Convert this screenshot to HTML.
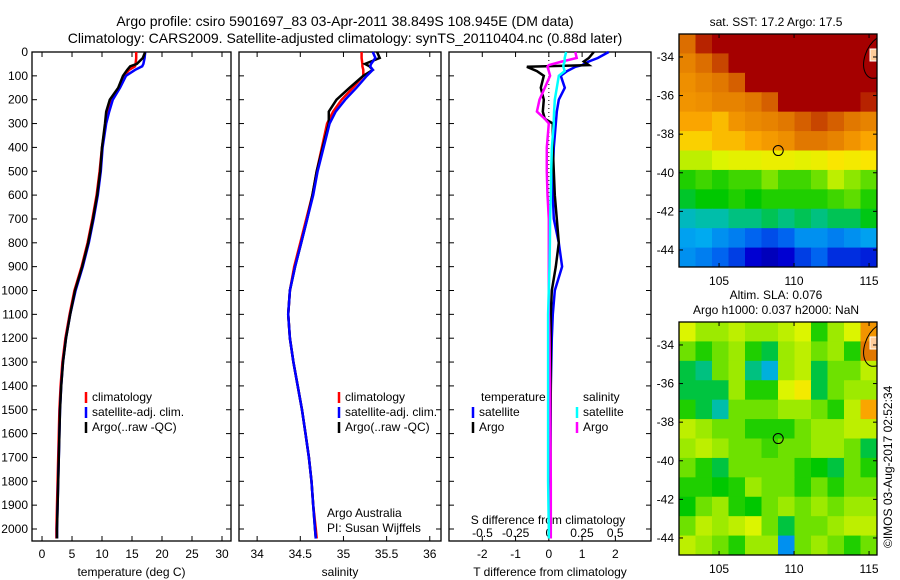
<!DOCTYPE html>
<html><head><meta charset="utf-8"><style>
body{margin:0;background:#fff}
svg{display:block;font-family:"Liberation Sans",sans-serif}
text{fill:#000}
</style></head><body>
<svg id="c" width="900" height="580" viewBox="0 0 900 580">
<text x="345" y="26" font-size="14" text-anchor="middle">Argo profile: csiro 5901697_83 03-Apr-2011 38.849S 108.945E (DM data)</text>
<text x="345" y="43" font-size="14" text-anchor="middle">Climatology: CARS2009. Satellite-adjusted climatology: synTS_20110404.nc (0.88d later)</text>
<text x="776" y="26" font-size="12" text-anchor="middle">sat. SST: 17.2 Argo: 17.5</text>
<text x="776" y="299" font-size="12" text-anchor="middle">Altim. SLA: 0.076</text>
<text x="776" y="314" font-size="12" text-anchor="middle">Argo h1000: 0.037 h2000: NaN</text>
<text transform="translate(892,548) rotate(-90)" font-size="12">©IMOS 03-Aug-2017 02:52:34</text>
<g id="g"></g>
</svg>
<script>
// ---- data ----
const depths=[0,25,50,60,75,100,150,200,250,300,400,500,600,700,800,900,1000,1100,1200,1300,1400,1500,1600,1700,1800,1900,2000,2040];
const depthTicks=[0,100,200,300,400,500,600,700,800,900,1000,1100,1200,1300,1400,1500,1600,1700,1800,1900,2000];
const tArgo=[17.2,16.8,15.8,14.7,14.2,13.5,12.7,11.3,10.7,10.5,10.0,9.7,9.2,8.5,7.7,6.7,5.5,4.7,4.0,3.5,3.2,3.0,2.9,2.8,2.7,2.6,2.5,2.5];
const tClim=[15.7,15.7,15.6,15.5,14.5,13.7,12.8,11.5,10.9,10.6,10.0,9.6,9.1,8.4,7.6,6.6,5.4,4.6,3.9,3.4,3.1,2.9,2.8,2.7,2.6,2.5,2.4,2.4];
const tSat=[17.2,17.1,16.9,16.7,15.5,14.0,13.0,11.8,11.2,10.7,10.1,9.8,9.3,8.6,7.8,6.8,5.6,4.7,4.0,3.5,3.2,3.0,2.9,2.8,2.7,2.6,2.5,2.5];
const sArgo=[35.39,35.42,35.25,35.30,35.34,35.23,35.07,34.92,34.83,34.83,34.76,34.69,34.64,34.58,34.51,34.44,34.38,34.36,34.38,34.42,34.47,34.52,34.56,34.60,34.63,34.65,34.67,34.68];
const sClim=[35.21,35.21,35.22,35.22,35.23,35.23,35.11,34.98,34.88,34.81,34.75,34.69,34.64,34.57,34.50,34.43,34.38,34.36,34.38,34.42,34.47,34.52,34.56,34.60,34.63,34.65,34.68,34.69];
const sSat=[35.34,35.37,35.32,35.31,35.34,35.27,35.15,35.02,34.91,34.84,34.77,34.70,34.65,34.58,34.51,34.44,34.38,34.36,34.38,34.42,34.47,34.52,34.56,34.60,34.63,34.65,34.67,34.68];
const dDepths=[0,25,40,55,62,80,100,150,200,250,280,300,400,500,600,700,800,900,1000,1100,1200,1400,1600,1800,2000,2040];
const dTSat=[1.8,1.47,1.2,1.0,0.8,0.55,0.36,0.48,0.3,0.24,0.22,0.21,0.15,0.12,0.12,0.15,0.3,0.4,0.18,0.12,0.09,0.06,0.05,0.03,0.02,0.02];
const dTArgo=[1.35,1.2,1.05,1.2,-0.66,-0.36,-0.15,-0.24,-0.15,-0.18,-0.12,0.12,0.12,0.15,0.18,0.24,0.3,0.21,0.09,0.06,0.06,0.06,0.05,0.05,0.04,0.04];
const dSArgo=[0.2,0.21,0.1,0.0,-0.01,0.0,0.01,-0.03,-0.07,-0.09,-0.03,0.0,-0.015,-0.015,-0.01,0.0,0.0,0.0,0.0,0.0,0.005,0.01,0.012,0.015,0.015,0.015];
const dSSat=[0.13,0.12,0.12,0.11,0.11,0.12,0.075,0.06,0.045,0.04,0.038,0.038,0.023,0.018,0.015,0.01,0.008,0.005,0.0,-0.005,-0.005,-0.005,-0.005,-0.005,0.0,0.0];
const sstGrid=[
[.82,.95,1,1,1,1,1,1,1,1,1,1],
[.78,.82,.9,1,1,1,1,1,1,1,1,1],
[.76,.78,.8,.85,1,1,1,1,1,1,1,1],
[.75,.76,.78,.78,.8,.85,1,1,1,1,1,.95],
[.72,.72,.7,.75,.77,.78,.8,.85,.9,.85,.8,.78],
[.68,.68,.7,.7,.72,.74,.76,.8,.8,.78,.75,.72],
[.6,.6,.62,.63,.63,.64,.64,.63,.64,.66,.65,.66],
[.5,.52,.5,.52,.52,.56,.52,.52,.55,.6,.57,.54],
[.46,.48,.48,.5,.48,.5,.5,.5,.5,.52,.54,.5],
[.38,.4,.4,.42,.42,.44,.42,.44,.42,.44,.44,.47],
[.32,.33,.3,.28,.25,.22,.25,.3,.3,.28,.3,.32],
[.3,.28,.25,.2,.12,.08,.12,.2,.25,.18,.18,.16]];
const slaGrid=[
[.62,.58,.58,.6,.58,.58,.6,.62,.5,.58,.62,.75],
[.55,.5,.55,.58,.5,.45,.58,.6,.55,.58,.5,.8],
[.45,.42,.55,.58,.42,.35,.58,.6,.45,.55,.55,.6],
[.45,.45,.45,.58,.5,.5,.62,.65,.45,.55,.58,.58],
[.5,.45,.4,.55,.55,.55,.58,.58,.55,.5,.6,.72],
[.6,.58,.55,.55,.5,.5,.5,.55,.58,.58,.6,.6],
[.58,.6,.58,.55,.55,.52,.55,.55,.58,.58,.55,.45],
[.55,.5,.45,.55,.55,.55,.55,.5,.48,.45,.55,.5],
[.5,.5,.48,.5,.58,.55,.55,.5,.55,.5,.55,.55],
[.48,.55,.58,.5,.48,.55,.58,.55,.58,.55,.58,.58],
[.55,.6,.58,.6,.62,.55,.45,.55,.55,.58,.6,.6],
[.6,.58,.55,.5,.58,.58,.3,.55,.58,.55,.5,.55]];
const lonTicks=[105,110,115];
const latTicks=[-34,-36,-38,-40,-42,-44];
const argoPos=[108.945,-38.849];
// ---- drawing ----
const NS='http://www.w3.org/2000/svg';
const G=document.getElementById('g');
function mk(t,a,p){const e=document.createElementNS(NS,t);for(const k in a)e.setAttribute(k,a[k]);(p||G).appendChild(e);return e;}
const yD=d=>52+d*0.2385;
const TOP=52,BOT=541;
const panels=[
 {x0:32,x1:231,v0:-1.67,v1:31.5,ticks:[0,5,10,15,20,25,30],label:'temperature (deg C)',name:'temperature'},
 {x0:239,x1:441,v0:33.79,v1:36.13,ticks:[34,34.5,35,35.5,36],label:'salinity',name:'salinity'},
 {x0:449,x1:651,v0:-3.0,v1:3.07,ticks:[-2,-1,0,1,2],label:'T difference from climatology',name:'difference'}];
function sx(p,v){return p.x0+(v-p.v0)/(p.v1-p.v0)*(p.x1-p.x0);}
panels.forEach((p,i)=>{
 const b=mk('rect',{x:p.x0,y:TOP,width:p.x1-p.x0,height:BOT-TOP,fill:'#fff',stroke:'#000','stroke-width':1.3});
 
 
 p.ticks.forEach(t=>{const x=sx(p,t);
  mk('line',{x1:x,x2:x,y1:BOT,y2:BOT-5,stroke:'#000'});mk('line',{x1:x,x2:x,y1:TOP,y2:TOP+5,stroke:'#000'});
  const tx=mk('text',{x:x,y:BOT+17,'font-size':12,'text-anchor':'middle'});tx.textContent=t;
  
  });
 const lb=mk('text',{x:(p.x0+p.x1)/2,y:BOT+35,'font-size':12,'text-anchor':'middle'});lb.textContent=p.label;
 
 
 depthTicks.forEach(d=>{const y=yD(d);
  mk('line',{x1:p.x0,x2:p.x0+5,y1:y,y2:y,stroke:'#000'});mk('line',{x1:p.x1,x2:p.x1-5,y1:y,y2:y,stroke:'#000'});});
});
depthTicks.forEach(d=>{const t=mk('text',{x:28,y:yD(d)+4,'font-size':12,'text-anchor':'end'});t.textContent=d;
 
 });
const sp={x0:449,x1:651,v0:-0.752,v1:0.77};
[-0.5,-0.25,0,0.25,0.5].forEach(v=>{const t=mk('text',{x:sx(sp,v),y:537,'font-size':12,'text-anchor':'middle'});t.textContent=v;
 
 });
const st=mk('text',{x:548,y:524,'font-size':12,'text-anchor':'middle'});st.textContent='S difference from climatology';


mk('line',{x1:sx(panels[2],0),x2:sx(panels[2],0),y1:TOP,y2:BOT,stroke:'#000','stroke-dasharray':'1 3'});
function line(p,xs,ds,col,name,w){const pts=xs.map((v,i)=>sx(p,v).toFixed(1)+','+yD(ds[i]).toFixed(1)).join(' ');
 const e=mk('polyline',{points:pts,fill:'none',stroke:col,'stroke-width':w||2.5});
 
 }
line(panels[0],tClim,depths,'#f00','temp-climatology-line');
line(panels[0],tSat,depths,'#00f','temp-satellite-line');
line(panels[0],tArgo,depths,'#000','temp-argo-line');
line(panels[1],sClim,depths,'#f00','sal-climatology-line');
line(panels[1],sArgo,depths,'#000','sal-argo-line');
line(panels[1],sSat,depths,'#00f','sal-satellite-line');
line(panels[2],dTSat,dDepths,'#00f','tdiff-satellite-line');
line(panels[2],dTArgo,dDepths,'#000','tdiff-argo-line');
line(sp,dSArgo,dDepths,'#f0f','sdiff-argo-line');
line(sp,dSSat,dDepths,'#0ff','sdiff-satellite-line');
function leg(x,y,col,txt,name){mk('line',{x1:x,x2:x,y1:y-9,y2:y+2,stroke:col,'stroke-width':2.5});
 const t=mk('text',{x:x+6,y:y,'font-size':12});t.textContent=txt;
 
 }
[86,339].forEach(x=>{leg(x,401,'#f00','climatology','legend-climatology');leg(x,416,'#00f','satellite-adj. clim.','legend-satellite');leg(x,431,'#000','Argo(..raw -QC)','legend-argo');});
let t1=mk('text',{x:481,y:401,'font-size':12});t1.textContent='temperature';


let t2=mk('text',{x:583,y:401,'font-size':12});t2.textContent='salinity';


leg(473,416,'#00f','satellite','legend-t-satellite');leg(473,431,'#000','Argo','legend-t-argo');
leg(577,416,'#0ff','satellite','legend-s-satellite');leg(577,431,'#f0f','Argo','legend-s-argo');
let a1=mk('text',{x:327,y:517,'font-size':12});a1.textContent='Argo Australia';


let a2=mk('text',{x:327,y:532,'font-size':12});a2.textContent='PI: Susan Wijffels';


// colormap
const stops=[[0,0,0,140],[0.12,0,0,210],[0.25,0,100,240],[0.33,0,170,240],[0.4,0,190,170],[0.48,0,200,0],[0.55,110,225,0],[0.62,220,245,0],[0.66,250,230,0],[0.72,250,165,0],[0.8,225,120,0],[0.9,200,70,0],[1,165,0,0]];
function cmap(v){for(let i=1;i<stops.length;i++){if(v<=stops[i][0]){const a=stops[i-1],b=stops[i],f=(v-a[0])/(b[0]-a[0]);
 return 'rgb('+[1,2,3].map(k=>Math.round(a[k]+(b[k]-a[k])*f)).join(',')+')';}}return 'rgb(165,0,0)';}
function map(grid,y0,name){const x0=679,w=198,h=233,R=grid.length,C=grid[0].length;
 const lonX=l=>x0+(l-102.33)*15, latY=l=>y0+(-32.81-l)*19.3;
 grid.forEach((row,r)=>row.forEach((v,c)=>{const e=mk('rect',{x:x0+c*w/C,y:y0+r*h/R,width:w/C+0.5,height:h/R+0.5,fill:cmap(v)});
  
  }));
 mk('path',{d:`M877 ${y0+4} C866 ${y0+12} 860 ${y0+30} 866 ${y0+40} C870 ${y0+46} 874 ${y0+44} 877 ${y0+44}`,fill:'none',stroke:'#000','stroke-width':1});
 mk('rect',{x:870,y:y0+15,width:7,height:12,fill:'#fc9',stroke:'#fff'});
 const bx=mk('rect',{x:x0,y:y0,width:w,height:h,fill:'none',stroke:'#000','stroke-width':1.3});
 
 
 lonTicks.forEach(l=>{const x=lonX(l);mk('line',{x1:x,x2:x,y1:y0+h,y2:y0+h-4,stroke:'#000'});mk('line',{x1:x,x2:x,y1:y0,y2:y0+4,stroke:'#000'});
  const t=mk('text',{x:x,y:y0+h+18,'font-size':12,'text-anchor':'middle'});t.textContent=l;
  
  });
 latTicks.forEach(l=>{const y=latY(l);mk('line',{x1:x0,x2:x0+4,y1:y,y2:y,stroke:'#000'});mk('line',{x1:x0+w,x2:x0+w-4,y1:y,y2:y,stroke:'#000'});
  const t=mk('text',{x:x0-5,y:y+4,'font-size':12,'text-anchor':'end'});t.textContent=l;
  
  });
 const c=mk('circle',{cx:lonX(argoPos[0]),cy:latY(argoPos[1]),r:5,fill:'none',stroke:'#000','stroke-width':1});
 
 }
map(sstGrid,34,'sst-map');
map(slaGrid,322,'sla-map');
</script>
</body></html>
